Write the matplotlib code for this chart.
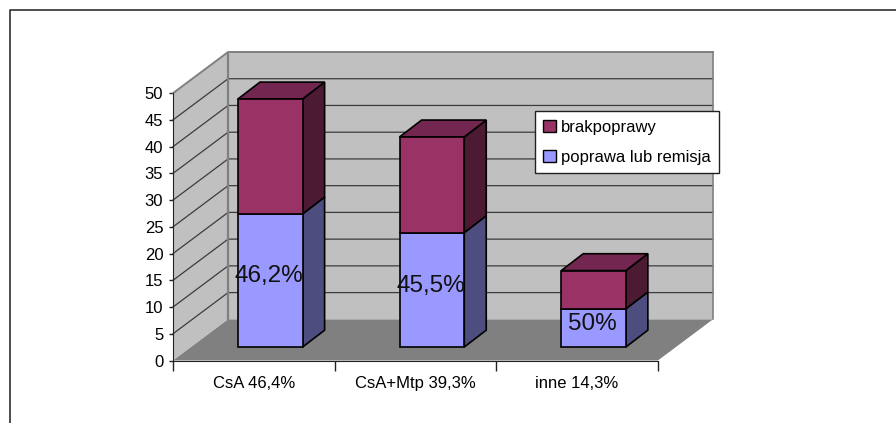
import matplotlib
matplotlib.use("Agg")
import matplotlib.pyplot as plt
from matplotlib.lines import Line2D
from matplotlib.patches import Patch

plt.rcParams['font.family'] = ['Liberation Sans', 'DejaVu Sans']

categories = ['CsA 46,4%', 'CsA+Mtp 39,3%', 'inne 14,3%']
poprawa = [24.9, 21.4, 7.15]
brak_poprawy = [21.5, 17.9, 7.15]
bar_labels = ['46,2%', '45,5%', '50%']
y_ticks = [0, 5, 10, 15, 20, 25, 30, 35, 40, 45, 50]

W, H = 896, 423
WALL = '#C0C0C0'
FLOOR = '#808080'
EDGE = '#808080'
GRID = '#3c3c3c'

# oblique projection: how far the back wall is shifted, in data units
DEPTH_X, DEPTH_Y = 0.341, 7.7
# bar box placement inside the floor depth
BAR_SHIFT_X, BAR_SHIFT_Y = 0.102, 2.52
BAR_DX, BAR_DY = 0.136, 3.15
BAR_W = 0.4

fig = plt.figure(figsize=(W / 100, H / 100), dpi=100, facecolor='white')
ax = fig.add_axes([173 / W, (H - 360.5) / H, 540 / W, 308.5 / H])
ax.set_xlim(0, 3 + DEPTH_X)
ax.set_ylim(0, 50 + DEPTH_Y)
ax.patch.set_visible(False)

n = len(categories)

# walls and floor
ax.fill([0, DEPTH_X, DEPTH_X, 0], [0, DEPTH_Y, 50 + DEPTH_Y, 50], color=WALL, lw=0, zorder=1)
ax.fill([DEPTH_X, n + DEPTH_X, n + DEPTH_X, DEPTH_X], [DEPTH_Y, DEPTH_Y, 50 + DEPTH_Y, 50 + DEPTH_Y],
        color=WALL, lw=0, zorder=1)
ax.fill([0, n, n + DEPTH_X, DEPTH_X], [0, 0, DEPTH_Y, DEPTH_Y], color=FLOOR, lw=0, zorder=1)

# gridlines bend at the corner of side wall and back wall
for v in y_ticks[1:]:
    ax.plot([0, DEPTH_X, n + DEPTH_X], [v, v + DEPTH_Y, v + DEPTH_Y], color=GRID if v < 50 else EDGE,
            lw=0.9 if v < 50 else 1.4, zorder=2, clip_on=False)
ax.plot([DEPTH_X, DEPTH_X], [DEPTH_Y, 50 + DEPTH_Y], color=EDGE, lw=1.6, zorder=2)
ax.plot([n + DEPTH_X, n + DEPTH_X], [DEPTH_Y, 50 + DEPTH_Y], color=EDGE, lw=1.2, zorder=2, clip_on=False)


def box(center, base, height, front, side, top=None, z=3):
    x0 = center - BAR_W / 2 + BAR_SHIFT_X
    x1 = center + BAR_W / 2 + BAR_SHIFT_X
    y0 = base + BAR_SHIFT_Y
    y1 = y0 + height
    style = dict(edgecolor='black', linewidth=1.2, joinstyle='miter', zorder=z, clip_on=False)
    ax.fill([x1, x1 + BAR_DX, x1 + BAR_DX, x1], [y0, y0 + BAR_DY, y1 + BAR_DY, y1], facecolor=side, **style)
    if top is not None:
        ax.fill([x0, x1, x1 + BAR_DX, x0 + BAR_DX], [y1, y1, y1 + BAR_DY, y1 + BAR_DY], facecolor=top, **style)
    ax.fill([x0, x1, x1, x0], [y0, y0, y1, y1], facecolor=front, **style)


for i in range(n):
    c = i + 0.5
    box(c, 0, poprawa[i], '#9999FF', '#4D4D80')
    box(c, poprawa[i], brak_poprawy[i], '#993366', '#4D1A33', '#732650')
    ax.text(c + BAR_SHIFT_X - 0.008, poprawa[i] / 2 + BAR_SHIFT_Y + 0.8, bar_labels[i],
            fontsize=17.5, ha='center', va='center', color='#111111', zorder=6)

# axis lines and ticks
for side in ['top', 'right']:
    ax.spines[side].set_visible(False)
ax.spines['left'].set_bounds(0, 50)
ax.spines['bottom'].set_bounds(0, n)
ax.spines['left'].set_color('#222222')
ax.spines['bottom'].set_color('#222222')
ax.spines['left'].set_zorder(5)
ax.spines['bottom'].set_zorder(5)
ax.set_yticks(y_ticks)
ax.set_xticks(range(n + 1))
ax.set_xticklabels([])
ax.set_xticks([i + 0.5 for i in range(n)], minor=True)
ax.set_xticklabels(categories, minor=True)
ax.tick_params(axis='y', length=3, width=1, labelsize=12, pad=4, color='#222222')
ax.tick_params(axis='x', which='major', length=7, width=1, color='#222222')
ax.tick_params(axis='x', which='minor', length=0, labelsize=12, pad=11)

# legend box
handles = [Patch(facecolor='#993366', edgecolor='black', lw=1),
           Patch(facecolor='#9999FF', edgecolor='black', lw=1)]
leg = fig.legend(handles, ['brakpoprawy', 'poprawa lub remisja'], loc='upper left',
                 bbox_to_anchor=(535 / W, 1 - 111.5 / H), bbox_transform=fig.transFigure,
                 fontsize=12, fancybox=False, framealpha=1, edgecolor='#222222',
                 handlelength=0.75, handleheight=0.75, handletextpad=0.3, labelspacing=0.9,
                 borderpad=0.5, borderaxespad=0)
leg.get_frame().set_linewidth(1)
leg.set_zorder(10)

# outer frame, open on the right and at the bottom
fig.add_artist(Line2D([9.5 / W, 9.5 / W, 1], [0, 1 - 10.5 / H, 1 - 10.5 / H], color='#404040', lw=1.3))

fig.savefig('out.png', dpi=100)
